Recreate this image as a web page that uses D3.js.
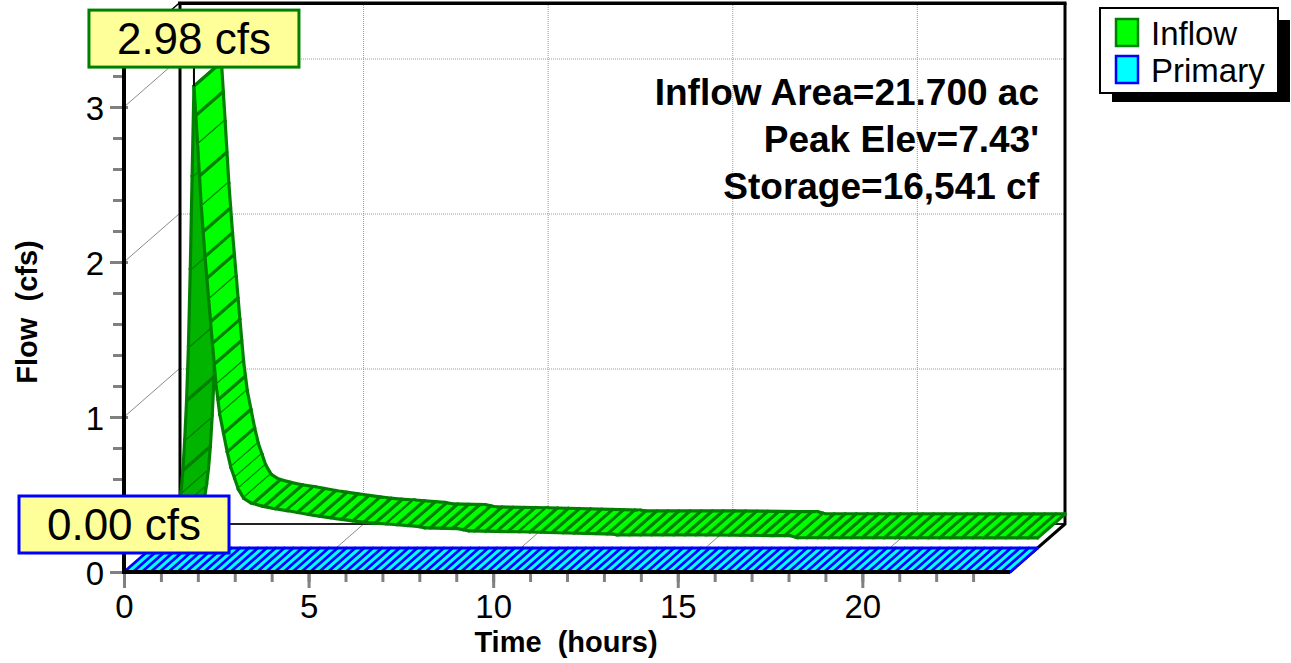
<!DOCTYPE html>
<html>
<head>
<meta charset="utf-8">
<script src="https://cdn.jsdelivr.net/npm/d3@7"></script>
<style>
  html, body { margin: 0; padding: 0; background: #fff; overflow: hidden; }
  svg { display: block; }
  text { font-family: "Liberation Sans", Arial, sans-serif; }
</style>
</head>
<body>
<svg id="chart" width="1291" height="663"></svg>
<script>
// ---- Hydrograph data ----
// Inflow hydrograph: time (hours) and flow (cfs)
const inflowHours = [0, 0.6, 0.65, 0.7, 0.75, 0.8, 0.85, 0.9, 0.95, 1.0,
  1.05, 1.1, 1.15, 1.25, 1.35, 1.45, 1.55, 1.65, 1.75, 1.85,
  1.95, 2.05, 2.15, 2.25, 2.35, 2.5, 2.7, 3.0, 3.3, 3.7,
  4.4, 5.0, 5.6, 6.0, 6.4, 7.2, 7.4, 8.3, 8.6, 10.0,
  12.5, 12.6, 15.0, 16.8, 17.3, 17.5, 24.0];
const inflowFlow = [0, 0, 0.06, 0.18, 0.26, 0.36, 0.5, 0.7, 0.95, 1.3,
  1.8, 2.4, 2.98, 2.6, 2.2, 1.88, 1.6, 1.32, 1.05, 0.86,
  0.74, 0.62, 0.52, 0.45, 0.38, 0.32, 0.29, 0.27, 0.255, 0.24,
  0.21, 0.19, 0.17, 0.16, 0.155, 0.14, 0.13, 0.125, 0.11, 0.105,
  0.09, 0.085, 0.085, 0.08, 0.08, 0.066, 0.065];

// Primary outlet: no discharge over the whole run
const primaryHours = [0, 24];
const primaryFlow = [0, 0];

// Axes
const timeDomain = [0, 24];
const flowDomain = [0, 3.36];
const xTickValues = [0, 5, 10, 15, 20];
const xMinorTicks = d3.range(0, 24, 1);
const yTickValues = [0, 1, 2, 3];
const yMinorTicks = d3.range(0, 3.3, 0.2);
const xTitle = "Time  (hours)";
const yTitle = "Flow  (cfs)";

// Legend and summary text
const seriesNames = ["Inflow", "Primary"];
const infoLines = ["Inflow Area=21.700 ac", "Peak Elev=7.43'", "Storage=16,541 cf"];

// ---- Layout ----
const svg = d3.select("#chart");
svg.append("rect").attr("width", 1291).attr("height", 663).attr("fill", "#fff");

const x = d3.scaleLinear().domain(timeDomain).range([124, 1010]);
const y = d3.scaleLinear().domain(flowDomain).range([572, 572 - 155 * flowDomain[1]]);
const DX = 55, DY = -48;           // depth offset of the back wall
const pt = (h, v, d) => [x(h) + DX * d, y(v) + DY * d];

const x0 = x(timeDomain[0]), x1 = x(timeDomain[1]);
const yb = y(0), yt = y(flowDomain[1]);

const line = (g, a, b, stroke, w, dash) => g.append("line")
  .attr("x1", a[0]).attr("y1", a[1]).attr("x2", b[0]).attr("y2", b[1])
  .attr("stroke", stroke).attr("stroke-width", w)
  .attr("stroke-dasharray", dash || null);

// ---- Back wall, side wall and floor grid ----
const grid = svg.append("g");
yTickValues.filter(v => v > 0).forEach(v => {
  line(grid, [x0 + DX, y(v) + DY], [x1 + DX, y(v) + DY], "#9a9a9a", 1, "1,1");
  line(grid, [x0, y(v)], [x0 + DX, y(v) + DY], "#8a8a8a", 1);
});
xTickValues.filter(h => h > 0).forEach(h => {
  line(grid, [x(h) + DX, yb + DY], [x(h) + DX, yt + DY], "#9a9a9a", 1, "1,1");
  line(grid, [x(h), yb], [x(h) + DX, yb + DY], "#8a8a8a", 1);
});

const frame = svg.append("g");
line(frame, [x0 + DX, yb + DY], [x1 + DX, yb + DY], "#222", 2);
line(frame, [x0 + DX + 1, yt + DY], [x0 + DX + 1, yb + DY], "#000", 3);
line(frame, [x1 + DX, yt + DY], [x1 + DX, yb + DY + 1], "#000", 3);
line(frame, [x0 + DX - 1, yt + DY], [x1 + DX + 1.5, yt + DY], "#000", 3.5);
line(frame, [x0, yt], [x0 + DX, yt + DY], "#000", 1.5);
line(frame, [x1, yb], [x1 + DX, yb + DY], "#000", 3);

// ---- Ribbon series ----
function ribbon(hours, flow, d0, d1, st) {
  const g = svg.append("g");
  const n = hours.length;
  const F = hours.map((h, i) => pt(h, flow[i], d0));
  const B = hours.map((h, i) => pt(h, flow[i], d1));
  const vAt = d3.scaleLinear().domain(hours).range(flow);

  // cross-section hatch positions along the ribbon
  const hatch = [];
  let last = pt(hours[0], flow[0], d0);
  const tEnd = hours[n - 1];
  for (let k = 1; k * st.step < tEnd; k++) {
    const t = k * st.step;
    const p = pt(t, vAt(t), d0);
    const endP = F[n - 1];
    if (Math.hypot(p[0] - last[0], p[1] - last[1]) >= st.gap &&
        Math.hypot(p[0] - endP[0], p[1] - endP[1]) >= st.gap * 0.6) {
      hatch.push(t);
      last = p;
    }
  }

  const stroke = (a, b) => line(g, a, b, st.line, st.width)
    .attr("stroke-linecap", "round");
  let prevUnder = null;
  for (let i = 0; i < n - 1; i++) {
    const q = [F[i], F[i + 1], B[i + 1], B[i]];
    const tx = F[i + 1][0] - F[i][0], ty = F[i + 1][1] - F[i][1];
    const under = tx * DY - ty * DX > 0;
    const fill = under ? st.dark : st.light;
    g.append("path").attr("d", "M" + q.join("L") + "Z")
      .attr("fill", fill).attr("stroke", fill).attr("stroke-width", 1);
    hatch.filter(t => t > hours[i] && t <= hours[i + 1]).forEach(t => {
      stroke(pt(t, vAt(t), d0), pt(t, vAt(t), d1));
    });
    if (i === 0 || under !== prevUnder) stroke(F[i], B[i]);
    stroke(F[i], F[i + 1]);
    stroke(B[i], B[i + 1]);
    prevUnder = under;
  }
  stroke(F[n - 1], B[n - 1]);
}

ribbon(inflowHours, inflowFlow, 0.5, 1.0,
  { light: "#00ff00", dark: "#00b400", line: "#008000", width: 3.2, step: 0.05, gap: 10.5 });
ribbon(primaryHours, primaryFlow, 0, 0.5,
  { light: "#00ffff", dark: "#00c0c0", line: "#0000ff", width: 2.8, step: 0.06, gap: 8.6 });

// ---- Front axes ----
const axes = svg.append("g");
const tickStyle = sel => sel.selectAll(".tick line").attr("stroke", "#808080").attr("stroke-width", 3);

const yMinorG = axes.append("g").attr("transform", `translate(${x0},0)`)
  .call(d3.axisLeft(y).tickValues(yMinorTicks).tickSize(11).tickFormat(""));
yMinorG.select(".domain").remove();
tickStyle(yMinorG);

const yMajorG = axes.append("g").attr("transform", `translate(${x0},0)`)
  .call(d3.axisLeft(y).tickValues(yTickValues).tickSize(14).tickFormat(d3.format("d")));
yMajorG.select(".domain").remove();
tickStyle(yMajorG);
yMajorG.selectAll(".tick line").attr("x2", -14).attr("x1", 4);
yMajorG.selectAll(".tick text").attr("x", -20).attr("dy", 12.5)
  .attr("font-size", 33).attr("fill", "#000")
  .attr("font-family", "'Liberation Sans', Arial, sans-serif");

const xMinorG = axes.append("g").attr("transform", `translate(0,${yb})`)
  .call(d3.axisBottom(x).tickValues(xMinorTicks).tickSize(10).tickFormat(""));
xMinorG.select(".domain").remove();
tickStyle(xMinorG);

const xMajorG = axes.append("g").attr("transform", `translate(0,${yb})`)
  .call(d3.axisBottom(x).tickValues(xTickValues).tickSize(16).tickFormat(d3.format("d")));
xMajorG.select(".domain").remove();
tickStyle(xMajorG);
xMajorG.selectAll(".tick text").attr("y", 46).attr("dy", 0)
  .attr("font-size", 33).attr("fill", "#000")
  .attr("font-family", "'Liberation Sans', Arial, sans-serif");

line(axes, [x0, yt], [x0, yb + 2], "#000", 4);
line(axes, [x0 - 2, yb], [x1, yb], "#000", 4);

// ---- Axis titles ----
svg.append("text").attr("x", 566).attr("y", 652)
  .attr("text-anchor", "middle").attr("font-size", 29).attr("font-weight", "bold")
  .style("white-space", "pre").text(xTitle);
svg.append("text").attr("transform", "translate(37,312) rotate(-90)")
  .attr("text-anchor", "middle").attr("font-size", 29).attr("font-weight", "bold")
  .style("white-space", "pre").text(yTitle);

// ---- Summary text ----
svg.append("g").selectAll("text").data(infoLines).join("text")
  .attr("x", 1039).attr("y", (d, i) => 105 + i * 47)
  .attr("text-anchor", "end").attr("font-size", 37).attr("font-weight", "bold")
  .text(d => d);

// ---- Peak labels ----
function peakLabel(hours, flow, d, color) {
  const i = d3.maxIndex(flow);
  const [px, py] = pt(hours[i], flow[i], d);
  const g = svg.append("g");
  const bw = 210, bh = 57, gapY = 19;
  line(g, [px, py - gapY], [px, py], "#000", 2);
  g.append("rect").attr("x", px - bw / 2).attr("y", py - gapY - bh)
    .attr("width", bw).attr("height", bh)
    .attr("fill", "#ffff99").attr("stroke", color).attr("stroke-width", 3);
  g.append("text").attr("x", px).attr("y", py - gapY - 13)
    .attr("text-anchor", "middle").attr("font-size", 44)
    .text(d3.format(".2f")(flow[i]) + " cfs");
}
peakLabel(primaryHours, primaryFlow, 0, "#0000ff");
peakLabel(inflowHours, inflowFlow, 0.5, "#008000");

// ---- Legend ----
const legendSwatches = [
  { fill: "#00ff00", stroke: "#008000" },
  { fill: "#00ffff", stroke: "#0000ff" }
];
const lg = svg.append("g");
lg.append("rect").attr("x", 1112).attr("y", 20).attr("width", 178).attr("height", 82).attr("fill", "#000");
lg.append("rect").attr("x", 1100).attr("y", 8).attr("width", 178).attr("height", 85)
  .attr("fill", "#fff").attr("stroke", "#000").attr("stroke-width", 2);
seriesNames.forEach((name, i) => {
  lg.append("rect").attr("x", 1116).attr("y", 19 + i * 37).attr("width", 22).attr("height", 27)
    .attr("fill", legendSwatches[i].fill).attr("stroke", legendSwatches[i].stroke).attr("stroke-width", 2.5);
  lg.append("text").attr("x", 1151).attr("y", 45 + i * 37).attr("font-size", 33).text(name);
});
</script>
</body>
</html>
